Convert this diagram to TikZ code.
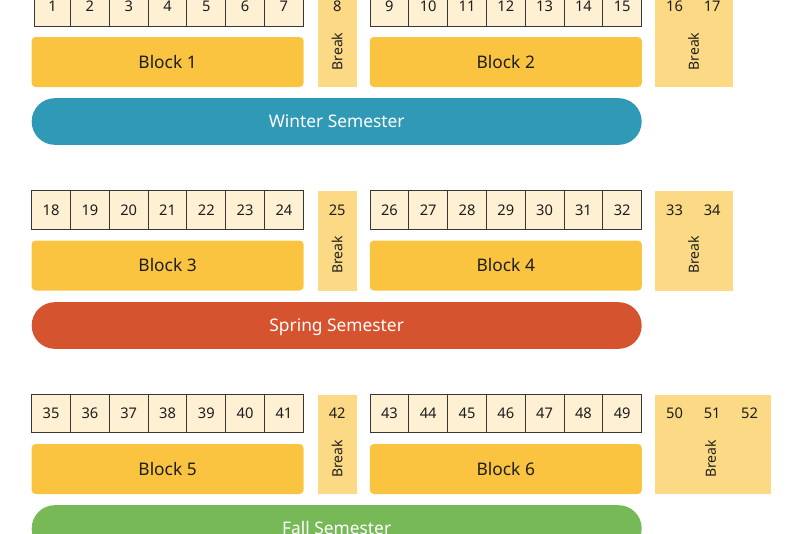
\documentclass[tikz,border=0pt]{standalone}
\usepackage{fontspec}
\setmainfont{Noto Sans}

\definecolor{weekfill}{RGB}{254,240,211}
\definecolor{weekline}{RGB}{55,55,55}
\definecolor{blockfill}{RGB}{251,196,64}
\definecolor{breakfill}{RGB}{252,217,133}
\definecolor{winterfill}{RGB}{48,154,182}
\definecolor{springfill}{RGB}{213,83,46}
\definecolor{fallfill}{RGB}{120,185,87}
\definecolor{textdark}{RGB}{30,30,30}

\begin{document}
\begin{tikzpicture}[x=0.75pt,y=0.75pt,yscale=-1,
  week/.style={draw=weekline,fill=weekfill,line width=0.75pt,minimum width=29.1pt,minimum height=29pt,inner sep=0pt,text=textdark,text height=7.9pt,text depth=0pt,font=\fontsize{11pt}{13pt}\selectfont},
  breakweek/.style={inner sep=0pt,text=textdark,text height=7.9pt,text depth=0pt,font=\fontsize{11pt}{13pt}\selectfont},
  blockbox/.style={fill=blockfill,rounded corners=3pt,minimum width=204pt,minimum height=37.5pt,inner sep=0pt,text=textdark,text height=9.3pt,text depth=0pt,font=\fontsize{13pt}{15pt}\selectfont},
  breakbox/.style={fill=breakfill,inner sep=0pt,minimum width=29.25pt},
  breaklabel/.style={rotate=90,inner sep=0pt,text=textdark,font=\fontsize{10.5pt}{12pt}\selectfont},
  semester/.style={rounded corners=17.4pt,minimum width=457.5pt,minimum height=35pt,inner sep=0pt,text=white,text height=9.3pt,text depth=0pt,font=\fontsize{13pt}{15pt}\selectfont}]

\clip (0,0) rectangle (800,533);

%Break boxes
\node[breakbox,minimum height=74.25pt] (brk1) at (337.2,37.2) {};
\node[breakbox,minimum height=75pt,minimum width=58.3pt] (brk2) at (693.9,37.2) {};
\node[breakbox,minimum height=75pt] (brk3) at (337.2,241) {};
\node[breakbox,minimum height=75pt,minimum width=58.3pt] (brk4) at (693.9,241) {};
\node[breakbox,minimum height=74.25pt] (brk5) at (337.2,444) {};
\node[breakbox,minimum height=74.25pt,minimum width=87pt] (brk6) at (713,444) {};

%Winter: weeks 1 - 17
\node[week,minimum width=27.3pt] (w1) at (52.5,6.7) {1};
\node[week] (w2) at (89.9,6.7) {2};
\node[week] (w3) at (128.7,6.7) {3};
\node[week] (w4) at (167.5,6.7) {4};
\node[week] (w5) at (206.3,6.7) {5};
\node[week] (w6) at (245.1,6.7) {6};
\node[week] (w7) at (283.9,6.7) {7};
\node[breakweek] (w8) at (337.2,6.7) {8};
\node[week] (w9) at (389.4,6.7) {9};
\node[week] (w10) at (428.2,6.7) {10};
\node[week] (w11) at (467,6.7) {11};
\node[week] (w12) at (505.8,6.7) {12};
\node[week] (w13) at (544.6,6.7) {13};
\node[week] (w14) at (583.4,6.7) {14};
\node[week] (w15) at (622.2,6.7) {15};
\node[breakweek] (w16) at (674.5,6.7) {16};
\node[breakweek] (w17) at (712.2,6.7) {17};

%Spring: weeks 18 - 34
\node[week] (w18) at (51.1,210) {18};
\node[week] (w19) at (89.9,210) {19};
\node[week] (w20) at (128.7,210) {20};
\node[week] (w21) at (167.5,210) {21};
\node[week] (w22) at (206.3,210) {22};
\node[week] (w23) at (245.1,210) {23};
\node[week] (w24) at (283.9,210) {24};
\node[breakweek] (w25) at (337.2,210) {25};
\node[week] (w26) at (389.4,210) {26};
\node[week] (w27) at (428.2,210) {27};
\node[week] (w28) at (467,210) {28};
\node[week] (w29) at (505.8,210) {29};
\node[week] (w30) at (544.6,210) {30};
\node[week] (w31) at (583.4,210) {31};
\node[week] (w32) at (622.2,210) {32};
\node[breakweek] (w33) at (674.5,210) {33};
\node[breakweek] (w34) at (712.2,210) {34};

%Fall: weeks 35 - 52
\node[week] (w35) at (51.1,413.5) {35};
\node[week] (w36) at (89.9,413.5) {36};
\node[week] (w37) at (128.7,413.5) {37};
\node[week] (w38) at (167.5,413.5) {38};
\node[week] (w39) at (206.3,413.5) {39};
\node[week] (w40) at (245.1,413.5) {40};
\node[week] (w41) at (283.9,413.5) {41};
\node[breakweek] (w42) at (337.2,413.5) {42};
\node[week] (w43) at (389.4,413.5) {43};
\node[week] (w44) at (428.2,413.5) {44};
\node[week] (w45) at (467,413.5) {45};
\node[week] (w46) at (505.8,413.5) {46};
\node[week] (w47) at (544.6,413.5) {47};
\node[week] (w48) at (583.4,413.5) {48};
\node[week] (w49) at (622.2,413.5) {49};
\node[breakweek] (w50) at (674.5,413.5) {50};
\node[breakweek] (w51) at (712.2,413.5) {51};
\node[breakweek] (w52) at (749.5,413.5) {52};

%Break labels
\node[breaklabel] (lbl1) at (337.2,51.5) {Break};
\node[breaklabel] (lbl2) at (693.5,51.5) {Break};
\node[breaklabel] (lbl3) at (337.2,255) {Break};
\node[breaklabel] (lbl4) at (693.5,255) {Break};
\node[breaklabel] (lbl5) at (337.2,459) {Break};
\node[breaklabel] (lbl6) at (710.5,459) {Break};

%Blocks
\node[blockbox] (blk1) at (167.6,62) {Block 1};
\node[blockbox] (blk2) at (505.8,62) {Block 2};
\node[blockbox] (blk3) at (167.6,265.5) {Block 3};
\node[blockbox] (blk4) at (505.8,265.5) {Block 4};
\node[blockbox] (blk5) at (167.6,469) {Block 5};
\node[blockbox] (blk6) at (505.8,469) {Block 6};

%Semesters
\node[semester,fill=winterfill] (winter) at (336.7,121.5) {Winter Semester};
\node[semester,fill=springfill] (spring) at (336.7,325.5) {Spring Semester};
\node[semester,fill=fallfill] (fall) at (336.7,528.5) {Fall Semester};

\end{tikzpicture}
\end{document}
